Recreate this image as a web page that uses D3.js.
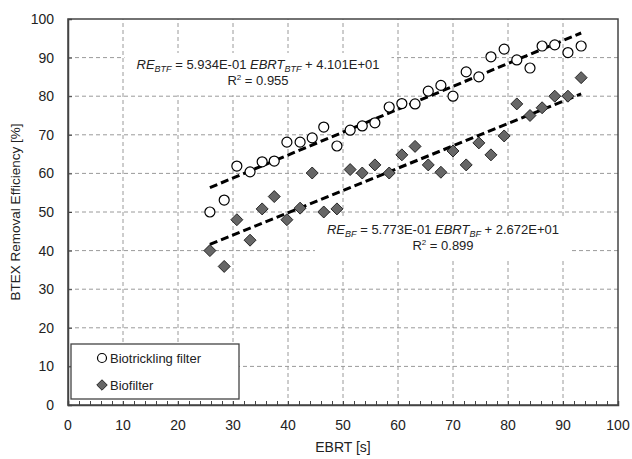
<!DOCTYPE html>
<html>
<head>
<meta charset="utf-8">
<script src="https://d3js.org/d3.v7.min.js"></script>
<style>
body { margin:0; background:#fff; }
svg text { font-family: "Liberation Sans", Arial, sans-serif; fill:#222; }
</style>
</head>
<body>
<div id="chart"></div>
<script>
// EBRT [s] values (shared by both series)
var ebrt = [25.8, 28.4, 30.7, 33.1, 35.3, 37.5, 39.8, 42.2, 44.4, 46.5,
            48.9, 51.3, 53.5, 55.8, 58.4, 60.7, 63.1, 65.5, 67.8, 70.0,
            72.4, 74.7, 76.9, 79.3, 81.6, 84.0, 86.2, 88.5, 90.9, 93.3];
// removal efficiency [%]
var btf = [50.0, 53.1, 61.9, 60.4, 63.0, 63.2, 68.1, 68.1, 69.2, 72.0,
           67.1, 71.2, 72.3, 73.1, 77.2, 78.1, 78.0, 81.3, 82.8, 80.0,
           86.3, 85.0, 90.2, 92.2, 89.4, 87.3, 93.0, 93.3, 91.3, 93.0];
var bf  = [40.0, 35.9, 48.0, 42.7, 50.8, 54.0, 48.0, 51.0, 60.1, 50.0,
           50.8, 61.0, 60.1, 62.2, 60.1, 64.8, 67.0, 62.2, 60.3, 65.8,
           62.2, 67.9, 64.8, 69.7, 78.0, 75.0, 77.0, 80.0, 80.0, 84.8];
// linear fits as printed on the chart: [slope, intercept]
var fitBtf = [0.5934, 41.01];
var fitBf  = [0.5773, 26.72];
var xTicks = [0, 10, 20, 30, 40, 50, 60, 70, 80, 90, 100];
var yTicks = [0, 10, 20, 30, 40, 50, 60, 70, 80, 90, 100];

var width = 632, height = 459;
var m = {left:68, top:19, right:14, bottom:54};

var svg = d3.select("#chart").append("svg")
	.attr("width", width).attr("height", height);

var x = d3.scaleLinear().domain([0,100]).range([m.left, width - m.right]);
var y = d3.scaleLinear().domain([0,100]).range([height - m.bottom, m.top]);

// gridlines
svg.append("g").selectAll("line")
	.data(xTicks.slice(1,-1)).enter().append("line")
	.attr("x1", function(d){return x(d);}).attr("x2", function(d){return x(d);})
	.attr("y1", y(0)).attr("y2", y(100))
	.attr("stroke", "#9a9a9a").attr("stroke-width", 1).attr("stroke-dasharray", "4,3");
svg.append("g").selectAll("line")
	.data(yTicks.slice(1,-1)).enter().append("line")
	.attr("y1", function(d){return y(d);}).attr("y2", function(d){return y(d);})
	.attr("x1", x(0)).attr("x2", x(100))
	.attr("stroke", "#9a9a9a").attr("stroke-width", 1).attr("stroke-dasharray", "4,3");

// frame
svg.append("rect")
	.attr("x", x(0)).attr("y", y(100))
	.attr("width", x(100) - x(0)).attr("height", y(0) - y(100))
	.attr("fill", "none").attr("stroke", "#444").attr("stroke-width", 1.5);

// axes
var xAxis = d3.axisBottom(x).tickValues(d3.range(0, 101, 2)).tickSize(-4).tickFormat("");
svg.append("g").attr("transform", "translate(0," + y(0) + ")").call(xAxis)
	.call(function(g){ g.select(".domain").attr("stroke","#444").attr("stroke-width",1.5);
		g.selectAll("line").attr("stroke","#444"); });
svg.append("g").selectAll("text").data(xTicks).enter().append("text")
	.attr("x", function(d){return x(d);}).attr("y", y(0) + 25)
	.attr("text-anchor", "middle").style("font-size", "14px").text(function(d){return d;});

var yAxis = d3.axisLeft(y).tickValues(yTicks).tickSize(-4).tickFormat("");
svg.append("g").attr("transform", "translate(" + x(0) + ",0)").call(yAxis)
	.call(function(g){ g.select(".domain").attr("stroke","#444").attr("stroke-width",1.5);
		g.selectAll("line").attr("stroke","#444"); });
svg.append("g").selectAll("text").data(yTicks).enter().append("text")
	.attr("x", x(0) - 14).attr("y", function(d){return y(d) + 5;})
	.attr("text-anchor", "end").style("font-size", "14px").text(function(d){return d;});

svg.append("text").attr("x", (x(0) + x(100))/2).attr("y", 452)
	.attr("text-anchor", "middle").style("font-size", "14px").text("EBRT [s]");
svg.append("text")
	.attr("transform", "translate(20," + ((y(0) + y(100))/2) + ") rotate(-90)")
	.attr("text-anchor", "middle").style("font-size", "13.5px").text("BTEX Removal Efficiency [%]");

// equation labels (white box behind, like the chart's text boxes)
function equation(cx, y1, sub, coef, r2) {
	var g = svg.append("g");
	var bg = g.append("rect").attr("fill", "#fff");
	var t = g.append("text").attr("x", cx).attr("y", y1).attr("text-anchor", "middle")
		.style("font-size", "13px");
	t.append("tspan").style("font-style", "italic").text("RE");
	t.append("tspan").style("font-style", "italic").style("font-size", "9px").attr("dy", 3).text(sub);
	t.append("tspan").attr("dy", -3).text(" = " + coef[0] + " ");
	t.append("tspan").style("font-style", "italic").text("EBRT");
	t.append("tspan").style("font-style", "italic").style("font-size", "9px").attr("dy", 3).text(sub);
	t.append("tspan").attr("dy", -3).text(" + " + coef[1]);
	var t2 = g.append("text").attr("x", cx).attr("y", y1 + 16).attr("text-anchor", "middle")
		.style("font-size", "13px");
	t2.append("tspan").text("R");
	t2.append("tspan").style("font-size", "8px").attr("dy", -5).text("2");
	t2.append("tspan").attr("dy", 5).text(" = " + r2);
	var b1 = t.node().getBBox();
	bg.attr("x", b1.x - 12).attr("y", b1.y - 4).attr("width", b1.width + 24).attr("height", 42);
}

// trend lines
function trend(vals, fit) {
	var ext = d3.extent(ebrt);
	var pts = ext.map(function(e){ return [e, fit[0] * e + fit[1]]; });
	svg.append("path")
		.attr("d", d3.line().x(function(d){return x(d[0]);}).y(function(d){return y(d[1]);})(pts))
		.attr("fill", "none").attr("stroke", "#000").attr("stroke-width", 3)
		.attr("stroke-dasharray", "8,4");
}

equation(258, 69, "BTF", ["5.934E-01", "4.101E+01"], "0.955");
equation(443, 234, "BF", ["5.773E-01", "2.672E+01"], "0.899");

trend(btf, fitBtf);
trend(bf, fitBf);

var diamond = d3.symbol().type(d3.symbolSquare).size(72);

svg.append("g").selectAll("path")
	.data(bf).enter().append("path")
	.attr("d", diamond)
	.attr("transform", function(d, i){return "translate(" + x(ebrt[i]) + "," + y(d) + ") rotate(45)";})
	.attr("fill", "#666").attr("stroke", "#111").attr("stroke-width", 0.8);

svg.append("g").selectAll("circle")
	.data(btf).enter().append("circle")
	.attr("cx", function(d, i){return x(ebrt[i]);})
	.attr("cy", function(d){return y(d);})
	.attr("r", 5)
	.attr("fill", "#fff").attr("stroke", "#000").attr("stroke-width", 1.2);

// legend
var lg = svg.append("g");
lg.append("rect").attr("x", 71).attr("y", 344).attr("width", 168).attr("height", 55)
	.attr("fill", "#fff").attr("stroke", "#444").attr("stroke-width", 1.3);
lg.append("circle").attr("cx", 102).attr("cy", 358).attr("r", 4.5)
	.attr("fill", "#fff").attr("stroke", "#000").attr("stroke-width", 1.2);
lg.append("text").attr("x", 110).attr("y", 362.5).style("font-size", "13px").text("Biotrickling filter");
lg.append("path").attr("d", d3.symbol().type(d3.symbolSquare).size(55))
	.attr("transform", "translate(102,385) rotate(45)")
	.attr("fill", "#666").attr("stroke", "#111").attr("stroke-width", 0.8);
lg.append("text").attr("x", 110).attr("y", 389.5).style("font-size", "13px").text("Biofilter");
</script>
</body>
</html>
